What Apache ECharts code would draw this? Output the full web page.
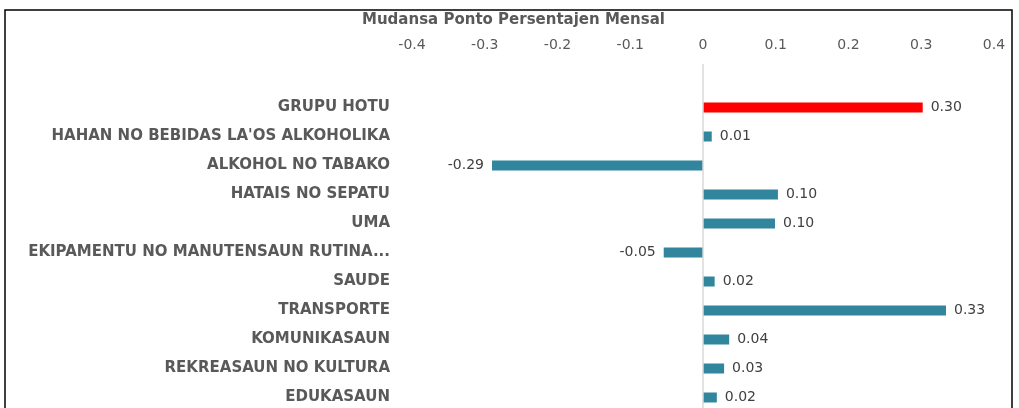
<!DOCTYPE html>
<html>
<head>
<meta charset="utf-8">
<script src="https://cdn.jsdelivr.net/npm/echarts@6/dist/echarts.min.js"></script>
<style>
html, body { margin: 0; padding: 0; background: #fff; overflow: hidden; }
#chart { width: 1019px; height: 420px; }
</style>
</head>
<body>
<div id="chart"></div>
<script>
var myChart = echarts.init(document.getElementById('chart'));

// kategoria sira (leten ba kraik), primeiru mamuk
var categories = ['', 'GRUPU HOTU', "HAHAN NO BEBIDAS LA'OS ALKOHOLIKA", 'ALKOHOL NO TABAKO',
	'HATAIS NO SEPATU', 'UMA', 'EKIPAMENTU NO MANUTENSAUN RUTINA...', 'SAUDE',
	'TRANSPORTE', 'KOMUNIKASAUN', 'REKREASAUN NO KULTURA', 'EDUKASAUN'];
var values = [null, 0.302, 0.012, -0.290, 0.103, 0.099, -0.054, 0.016, 0.334, 0.036, 0.029, 0.019];
var xTicks = [-0.4, -0.3, -0.2, -0.1, 0, 0.1, 0.2, 0.3, 0.4];

var teal = '#31859C';
var red = '#FF0000';

var barData = values.map(function (v, i) {
	if (v === null) return null;
	var neg = v < 0;
	return {
		value: v,
		itemStyle: { color: i === 1 ? red : teal },
		label: { position: neg ? 'left' : 'right' }
	};
});

myChart.setOption({
	animation: false,
	title: {
		text: 'Mudansa Ponto Persentajen Mensal',
		left: 357,
		top: 8,
		textStyle: { fontFamily: 'DejaVu Sans', fontSize: 15, fontWeight: 'bold', color: '#595959' }
	},
	graphic: [{
		type: 'rect',
		shape: { x: 5, y: 10, width: 1007, height: 430 },
		style: { fill: 'none', stroke: '#000', lineWidth: 1.5 },
		silent: true
	}],
	grid: {
		left: 412,
		right: 25,
		top: 64,
		bottom: 8,
		containLabel: false
	},
	xAxis: {
		type: 'value',
		position: 'top',
		min: xTicks[0],
		max: xTicks[xTicks.length - 1],
		interval: 0.1,
		axisLine: { show: false },
		axisTick: { show: false },
		splitLine: { show: false },
		axisLabel: {
			margin: 12,
			fontFamily: 'DejaVu Sans',
			fontSize: 14,
			color: '#595959',
			formatter: function (v) {
				var r = Math.round(v * 10) / 10;
				return r === 0 ? '0' : String(r);
			}
		}
	},
	yAxis: {
		type: 'category',
		inverse: true,
		data: categories,
		axisLine: { show: false },
		axisTick: { show: false },
		axisLabel: {
			margin: 22,
			fontFamily: 'DejaVu Sans',
			fontSize: 15,
			fontWeight: 'bold',
			color: '#595959'
		}
	},
	series: [{
		type: 'bar',
		data: barData,
		barWidth: 10,
		label: {
			show: true,
			distance: 8,
			fontFamily: 'DejaVu Sans',
			fontSize: 14,
			color: '#404040',
			formatter: function (p) { return p.value.toFixed(2); }
		},
		markLine: {
			silent: true,
			symbol: 'none',
			label: { show: false },
			lineStyle: { color: '#D9D9D9', type: 'solid', width: 1.5 },
			data: [{ xAxis: 0 }]
		}
	}]
});

window.addEventListener('resize', function () {
	myChart.resize();
});
</script>
</body>
</html>
